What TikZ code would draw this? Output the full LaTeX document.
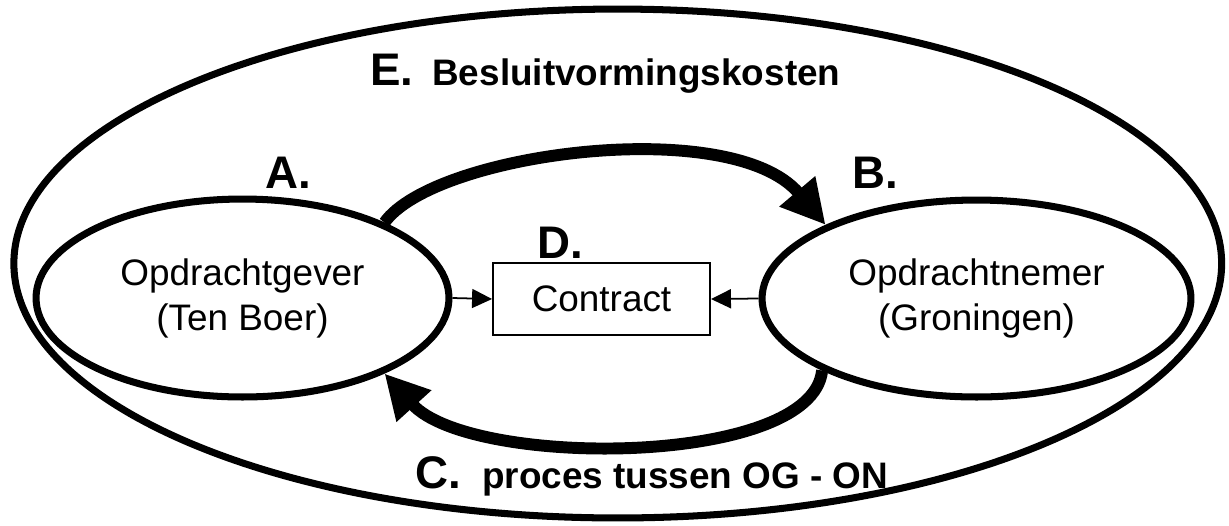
\documentclass[tikz,border=0pt]{standalone}
\usepackage{fontspec}
\setmainfont{Liberation Sans}
\usepackage{tikz}
\usetikzlibrary{positioning,arrows.meta,shapes.geometric}

\begin{document}
\begin{tikzpicture}[x=0.02cm,y=0.02cm,every node/.style={font=\fontsize{21}{25.6}\selectfont}]
      \tikzstyle{party}=[ellipse,draw,line width=4pt,inner sep=0pt,align=center];
      \tikzstyle{kostenrand}=[ellipse,draw,line width=4pt,inner sep=0pt,
                       minimum width=24.16cm,minimum height=10.18cm];
      \tikzstyle{box}=[draw,line width=1.1pt,minimum width=4.34cm,minimum height=1.44cm,inner sep=0pt];
      \tikzstyle{letter}=[anchor=base west,inner sep=0pt,font=\fontsize{26}{30}\selectfont\bfseries];
      \tikzstyle{caption}=[anchor=base west,inner sep=0pt,font=\fontsize{21}{25}\selectfont\bfseries];
      \tikzstyle{flow}=[line width=6.8pt,-{Triangle[length=0.88cm,width=0.88cm]}];
      \tikzstyle{link}=[line width=1pt,-{Triangle[length=0.4cm,width=0.38cm]}];
      \useasboundingbox (0,0) rectangle (1229,-525);
      \node[kostenrand] (kosten) at (617.75,-263.5) {};
      \node[party,minimum width=8.26cm,minimum height=3.96cm] (og) at (242.5,-298)
           {Opdrachtgever\\(Ten Boer)};
      \node[party,minimum width=8.58cm,minimum height=3.94cm] (on) at (976.5,-298.5)
           {Opdrachtnemer\\(Groningen)};
      \node[box] (contract) at (601.5,-299) {Contract};
      \node[letter] (la) at (265,-188) {A.};
      \node[letter] (lb) at (852,-188) {B.};
      \node[letter] (lc) at (415,-488) {C.};
      \node[letter] (ld) at (537,-258) {D.};
      \node[letter] (le) at (370,-85) {E.};
      \node[caption] (besluit) at (432,-85) {Besluitvormingskosten};
      \node[caption] (proces) at (482,-488) {proces tussen OG - ON};
      \draw[flow] (og.28) .. controls +(50,70) and +(-94,111) .. (on.154);
      \draw[flow] (on.205) .. controls +(-10,-97) and +(86,-95) .. (og.332);
      \draw[link] (og.east) -- (contract.west);
      \draw[link] (on.west) -- (contract.east);
    \end{tikzpicture}
\end{document}
